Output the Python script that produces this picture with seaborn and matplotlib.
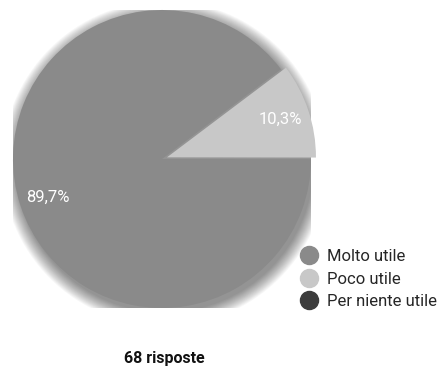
import matplotlib
matplotlib.use("Agg")
import matplotlib.pyplot as plt
import seaborn as sns
import numpy as np
from matplotlib.lines import Line2D
from matplotlib.patches import Circle

categories = ["Molto utile", "Poco utile", "Per niente utile"]
values = [89.7, 10.3, 0.0]
pct_labels = ["89,7%", "10,3%", ""]
colors = ["#8a8a8a", "#c8c8c8", "#3c3c3c"]
total_text = "68 risposte"

sns.set_theme(style="white")
FONT = ["Roboto", "DejaVu Sans"]
plt.rcParams["font.family"] = FONT

fig = plt.figure(figsize=(4.38, 3.70), dpi=100)
fig.patch.set_facecolor("white")

cx, cy, r = 162, 159, 149
W, H = 438, 370
ax = fig.add_axes([(cx - r) / W, (H - cy - r) / H, 2 * r / W, 2 * r / H])
ax.axis("off")

# soft shadow
for i in range(16):
    rad = 1.0 + 0.006 * i
    ax.add_patch(Circle((0.018, -0.03), rad, color="black", alpha=0.03,
                        lw=0, zorder=0))

wedges, _ = ax.pie(values, colors=colors, startangle=37, counterclock=True,
                   explode=[0, 0.035, 0], radius=1.0,
                   wedgeprops=dict(linewidth=0), normalize=True)
for w in wedges:
    w.set_zorder(2)
ax.set_xlim(-1, 1)
ax.set_ylim(-1, 1)
ax.set_aspect("equal")

ang = 37
for v, lab, w in zip(values, pct_labels, wedges):
    if not lab:
        ang += v / 100 * 360
        continue
    mid = np.deg2rad(ang + v / 100 * 360 / 2)
    c = w.center
    d = 0.81 if v > 50 else 0.80
    ax.text(c[0] + d * np.cos(mid), c[1] + d * np.sin(mid), lab,
            color="white", fontsize=12, ha="center", va="center", zorder=3)
    ang += v / 100 * 360

handles = [Line2D([0], [0], marker="o", linestyle="", markersize=13,
                  markerfacecolor=c, markeredgecolor=c) for c in colors]
fig.legend(handles, categories, loc="center left",
           bbox_to_anchor=(292 / W, 1 - 279 / H), frameon=False,
           fontsize=12, handletextpad=0.5, labelspacing=0.45,
           handlelength=1.2, borderaxespad=0)

fig.text(164 / W, 1 - 358 / H, total_text, ha="center", va="center",
         fontsize=11.5, fontweight="bold", color="#111111")

fig.savefig("out.png", dpi=100, facecolor="white")
